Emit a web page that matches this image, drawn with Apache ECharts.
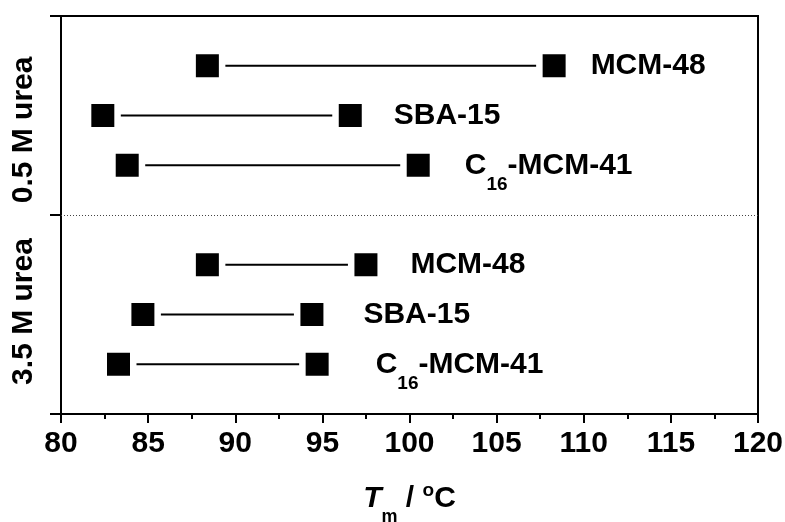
<!DOCTYPE html>
<html>
<head>
<meta charset="utf-8">
<script src="https://cdn.jsdelivr.net/npm/echarts@6/dist/echarts.min.js"></script>
<style>
  html, body { margin: 0; padding: 0; background: #fff; }
  #chart { width: 785px; height: 522px; }
</style>
</head>
<body>
<div id="chart"></div>
<script>
// Materials, listed bottom-to-top inside each urea block
const materials = ['C16-MCM-41', 'SBA-15', 'MCM-48'];
// Melting temperature range, low and high end (°C)
const urea05Low  = [83.8, 82.4, 88.4];
const urea05High = [100.5, 96.6, 108.3];
const urea35Low  = [83.3, 84.7, 88.4];
const urea35High = [94.7, 94.4, 97.5];
// Block captions, bottom block first
const blockNames = ['3.5 M urea', '0.5 M urea'];

// ---- layout / styling ----
const FONT = '"Liberation Sans", Arial, Helvetica, sans-serif';
const MARK = 23;          // marker square size (px)
const SEG_GAP = 18;       // segment clearance from marker centre (px)
const labelGap35 = [47, 40, 33];
const labelGap05 = [35, 32, 25];
const blockLabelAt = [2.06, 5.71];

// rows: bottom block uses y = 1..3, top block y = 5..7
const blocks = [
  { low: urea35Low, high: urea35High, base: 0, gaps: labelGap35 },
  { low: urea05Low, high: urea05High, base: 4, gaps: labelGap05 }
];

const segData = [], lowPts = [], highPts = [];
blocks.forEach(b => {
  materials.forEach((m, i) => {
    const y = b.base + i + 1;
    segData.push([b.low[i], b.high[i], y]);
    lowPts.push([b.low[i], y]);
    highPts.push({ value: [b.high[i], y], name: m, label: { distance: b.gaps[i] } });
  });
});

function richName(n) {
  const m = n.match(/^C(\d+)(.*)$/);
  return m ? '{t|C}{sub|' + m[1] + '}{t|' + m[2] + '}' : '{t|' + n + '}';
}

const chart = echarts.init(document.getElementById('chart'), null, { renderer: 'canvas' });

chart.setOption({
  animation: false,
  backgroundColor: '#fff',
  grid: {
    left: 61, right: 27, top: 16, bottom: 108,
    outerBoundsMode: 'none',
    containLabel: false,
    show: true, borderColor: '#000', borderWidth: 2, backgroundColor: 'transparent'
  },
  xAxis: {
    type: 'value', min: 80, max: 120, interval: 5,
    name: '{it|T}{sub|m}{n| / }{sup|o}{n|C}',
    nameLocation: 'middle', nameGap: 70,
    nameTextStyle: {
      rich: {
        it: { fontFamily: FONT, fontSize: 30, fontWeight: 'bold', fontStyle: 'italic', color: '#000', lineHeight: 30 },
        n: { fontFamily: FONT, fontSize: 30, fontWeight: 'bold', color: '#000', lineHeight: 30 },
        sub: { fontFamily: FONT, fontSize: 18, fontWeight: 'bold', color: '#000', lineHeight: 18, padding: [36, 0, 0, 0] },
        sup: { fontFamily: FONT, fontSize: 19, fontWeight: 'bold', color: '#000', lineHeight: 19, padding: [0, 0, 16, 0] }
      }
    },
    axisLine: { lineStyle: { color: '#000', width: 2 } },
    axisTick: { length: 9, lineStyle: { color: '#000', width: 2 } },
    minorTick: { show: true, splitNumber: 2, length: 5, lineStyle: { color: '#000', width: 2 } },
    axisLabel: { fontFamily: FONT, fontSize: 30, fontWeight: 'bold', color: '#000', margin: 15 },
    splitLine: { show: false }
  },
  yAxis: {
    type: 'value', min: 0, max: 8, interval: 4,
    axisLine: { lineStyle: { color: '#000', width: 2 } },
    axisTick: { length: 11, lineStyle: { color: '#000', width: 2 } },
    axisLabel: {
      customValues: blockLabelAt,
      formatter: v => (v < 4 ? blockNames[0] : blockNames[1]),
      rotate: 90, margin: 22,
      fontFamily: FONT, fontSize: 30, fontWeight: 'bold', color: '#000'
    },
    splitLine: { show: false }
  },
  series: [
    {
      type: 'custom',
      data: segData,
      encode: { x: [0, 1], y: 2 },
      renderItem: function (params, api) {
        const a = api.coord([api.value(0), api.value(2)]);
        const b = api.coord([api.value(1), api.value(2)]);
        return {
          type: 'line',
          shape: { x1: a[0] + SEG_GAP, y1: a[1], x2: b[0] - SEG_GAP, y2: b[1] },
          style: { stroke: '#000', lineWidth: 2 }
        };
      },
      markLine: {
        silent: true, symbol: 'none',
        label: { show: false },
        lineStyle: { color: '#444', width: 1, type: [1, 2] },
        data: [{ yAxis: 4 }]
      }
    },
    {
      type: 'scatter', symbol: 'rect', symbolSize: MARK,
      itemStyle: { color: '#000', opacity: 1 },
      data: lowPts
    },
    {
      type: 'scatter', symbol: 'rect', symbolSize: MARK,
      itemStyle: { color: '#000', opacity: 1 },
      data: highPts,
      label: {
        show: true, position: 'right',
        formatter: p => richName(p.name),
        rich: {
          t: { fontFamily: FONT, fontSize: 30, fontWeight: 'bold', color: '#000', lineHeight: 30 },
          sub: { fontFamily: FONT, fontSize: 19, fontWeight: 'bold', color: '#000', lineHeight: 19, padding: [40, 0, 0, 0] }
        }
      }
    }
  ]
});
</script>
</body>
</html>
